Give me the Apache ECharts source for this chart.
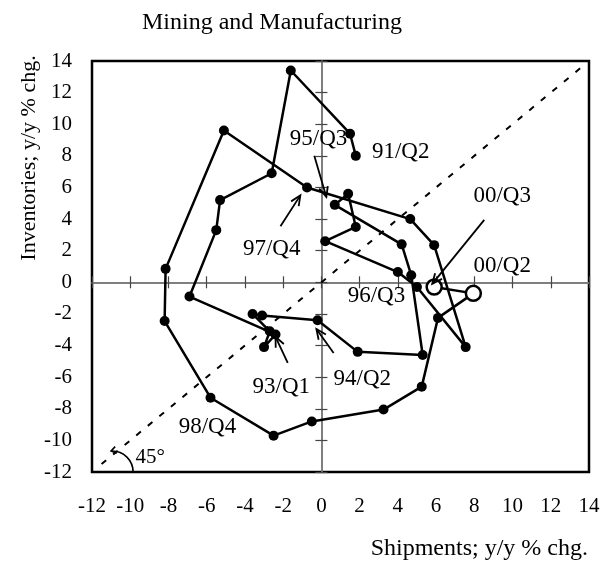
<!DOCTYPE html>
<html>
<head>
<meta charset="utf-8">
<script src="https://cdn.jsdelivr.net/npm/echarts@6/dist/echarts.min.js"></script>
<style>
  html, body { margin: 0; padding: 0; background: #fff; }
  #chart { width: 604px; height: 563px; }
</style>
</head>
<body>
<div id="chart"></div>
<script>
// Quarterly y/y % changes, 1991 Q2 through 2000 Q3
const quarters = [
  '91/Q2','91/Q3','91/Q4',
  '92/Q1','92/Q2','92/Q3','92/Q4',
  '93/Q1','93/Q2','93/Q3','93/Q4',
  '94/Q1','94/Q2','94/Q3','94/Q4',
  '95/Q1','95/Q2','95/Q3','95/Q4',
  '96/Q1','96/Q2','96/Q3','96/Q4',
  '97/Q1','97/Q2','97/Q3','97/Q4',
  '98/Q1','98/Q2','98/Q3','98/Q4',
  '99/Q1','99/Q2','99/Q3','99/Q4',
  '00/Q1','00/Q2','00/Q3'
];
const shipments = [
  1.8, 1.5, -1.6,
  -2.6, -5.3, -5.5, -6.9,
  -2.4, -3.0, -2.7, -3.6,
  -3.1, -0.2, 1.9, 5.3,
  4.7, 4.2, 0.7, 1.4,
  1.8, 0.2, 4.0, 5.0,
  7.55, 5.9, 4.65, -0.75,
  -5.1, -8.15, -8.2, -5.8,
  -2.5, -0.5, 3.25, 5.25,
  6.1, 7.95, 5.9
];
const inventories = [
  8.0, 9.4, 13.4,
  6.9, 5.2, 3.3, -0.9,
  -3.3, -4.1, -3.1, -2.0,
  -2.1, -2.4, -4.4, -4.6,
  0.45, 2.4, 4.9, 5.6,
  3.5, 2.6, 0.65, -0.3,
  -4.1, 2.35, 4.0, 6.0,
  9.6, 0.85, -2.45, -7.3,
  -9.7, -8.8, -8.05, -6.6,
  -2.25, -0.7, -0.3
];
// Latest quarters, drawn as hollow markers
const hollowQuarters = ['00/Q2', '00/Q3'];
// Both axes share the same range and step
const axisMin = -12;
const axisMax = 14;
const axisStep = 2;
// 45-degree reference line end values
const diagonal = [-11.5, 13.6];

const FONT = '"Liberation Serif", "Times New Roman", serif';

// Label placement (data units) and optional pointer arrows [from, to]
const notes = [
  { q: '91/Q2', at: [4.15, 8.25] },
  { q: '95/Q3', at: [-0.15, 9.05], arrow: [[-0.37, 8.0], [0.26, 5.4]] },
  { q: '97/Q4', at: [-2.6, 2.1],  arrow: [[-2.14, 3.55], [-1.1, 5.5]] },
  { q: '96/Q3', at: [2.88, -0.85] },
  { q: '00/Q3', at: [9.46, 5.47], arrow: [[8.52, 3.95], [5.8, -0.1]] },
  { q: '00/Q2', at: [9.46, 1.05] },
  { q: '93/Q1', at: [-2.1, -6.6], arrow: [[-1.76, -5.1], [-2.4, -3.45]] },
  { q: '94/Q2', at: [2.14, -6.1], arrow: [[0.64, -4.47], [-0.26, -2.95]] },
  { q: '98/Q4', at: [-5.96, -9.12] }
];
const angleNote = { text: '45°', at: [-8.95, -11.08], arcCenter: [-10.95, -12] };

const pathData = quarters.map(function (q, i) {
  const item = { name: q, value: [shipments[i], inventories[i]] };
  if (hollowQuarters.indexOf(q) >= 0) {
    item.symbolSize = 15;
    item.itemStyle = { color: '#fff', borderColor: '#000', borderWidth: 2.5 };
  }
  return item;
});

function mainAxis(pos, margin) {
  return {
    type: 'value', min: axisMin, max: axisMax, interval: axisStep,
    position: pos,
    axisLine: { show: false, onZero: false },
    axisTick: { show: false },
    splitLine: { show: false },
    axisLabel: {
      show: true, color: '#000', fontSize: 21, fontFamily: FONT, margin: margin,
      showMinLabel: true, showMaxLabel: true
    }
  };
}
function zeroAxis(pos, inside) {
  return {
    type: 'value', min: axisMin, max: axisMax, interval: axisStep,
    position: pos,
    axisLine: { show: true, onZero: true, onZeroAxisIndex: 0,
      lineStyle: { color: '#777', width: 1.5 } },
    axisTick: { show: true, inside: inside, length: 6,
      lineStyle: { color: '#444', width: 1.2 } },
    axisLabel: { show: false },
    splitLine: { show: false }
  };
}

function arrowHead(tip, ang, L, w) {
  return [
    [tip[0] - L * Math.cos(ang - w), tip[1] - L * Math.sin(ang - w)],
    tip,
    [tip[0] - L * Math.cos(ang + w), tip[1] - L * Math.sin(ang + w)]
  ];
}

function renderNotes(params, api) {
  const children = [];
  const lineStyle = { stroke: '#000', lineWidth: 1.8, fill: null };
  notes.forEach(function (n) {
    const p = api.coord(n.at);
    children.push({
      type: 'text', x: p[0], y: p[1],
      style: { text: n.q, fill: '#000', font: '23px ' + FONT,
        align: 'center', verticalAlign: 'middle' }
    });
    if (n.arrow) {
      const a = api.coord(n.arrow[0]);
      const b = api.coord(n.arrow[1]);
      const ang = Math.atan2(b[1] - a[1], b[0] - a[0]);
      children.push({ type: 'polyline', shape: { points: [a, b] }, style: lineStyle });
      children.push({ type: 'polyline', shape: { points: arrowHead(b, ang, 11, 0.42) }, style: lineStyle });
    }
  });
  // 45-degree marker: curved arrow plus text
  const c = api.coord(angleNote.arcCenter);
  const r = 21;
  children.push({
    type: 'arc',
    shape: { cx: c[0], cy: c[1], r: r, startAngle: -Math.PI / 2, endAngle: 0, clockwise: true },
    style: { stroke: '#000', lineWidth: 1.6, fill: null }
  });
  children.push({
    type: 'polyline',
    shape: { points: arrowHead([c[0] - 1, c[1] - r], Math.PI * 0.93, 6, 0.6) },
    style: { stroke: '#000', lineWidth: 1.6, fill: null }
  });
  const t = api.coord(angleNote.at);
  children.push({
    type: 'text', x: t[0], y: t[1],
    style: { text: angleNote.text, fill: '#000', font: '21px ' + FONT,
      align: 'center', verticalAlign: 'middle' }
  });
  return { type: 'group', children: children };
}

const chart = echarts.init(document.getElementById('chart'), null, { renderer: 'canvas' });
chart.setOption({
  animation: false,
  backgroundColor: '#fff',
  grid: {
    left: 92, right: 15, top: 61, bottom: 91,
    show: true, borderColor: '#000', borderWidth: 2.5, backgroundColor: 'transparent'
  },
  graphic: [
    { type: 'text', x: 272, y: 23, style: { text: 'Mining and Manufacturing',
      fill: '#000', font: '24px ' + FONT, align: 'center', verticalAlign: 'middle' } },
    { type: 'text', x: 29, y: 158, rotation: Math.PI / 2,
      style: { text: 'Inventories; y/y % chg.', fill: '#000', font: '22px ' + FONT,
        align: 'center', verticalAlign: 'middle' } },
    { type: 'text', x: 588, y: 549,
      style: { text: 'Shipments; y/y % chg.', fill: '#000', font: '24px ' + FONT,
        align: 'right', verticalAlign: 'middle' } }
  ],
  xAxis: [
    mainAxis('bottom', 24),
    zeroAxis('bottom', true),
    zeroAxis('bottom', false)
  ],
  yAxis: [
    mainAxis('left', 20),
    zeroAxis('left', true),
    zeroAxis('left', false)
  ],
  series: [
    {
      type: 'line',
      data: [[diagonal[0], diagonal[0]], [diagonal[1], diagonal[1]]],
      symbol: 'none',
      lineStyle: { color: '#000', width: 2, type: [6, 9] },
      silent: true, z: 2
    },
    {
      type: 'line',
      data: pathData,
      symbol: 'circle',
      symbolSize: 10,
      itemStyle: { color: '#000' },
      lineStyle: { color: '#000', width: 2.5 },
      silent: true, z: 3
    },
    {
      type: 'custom',
      data: [[0, 0]],
      renderItem: renderNotes,
      silent: true, z: 4
    }
  ]
});
</script>
</body>
</html>
